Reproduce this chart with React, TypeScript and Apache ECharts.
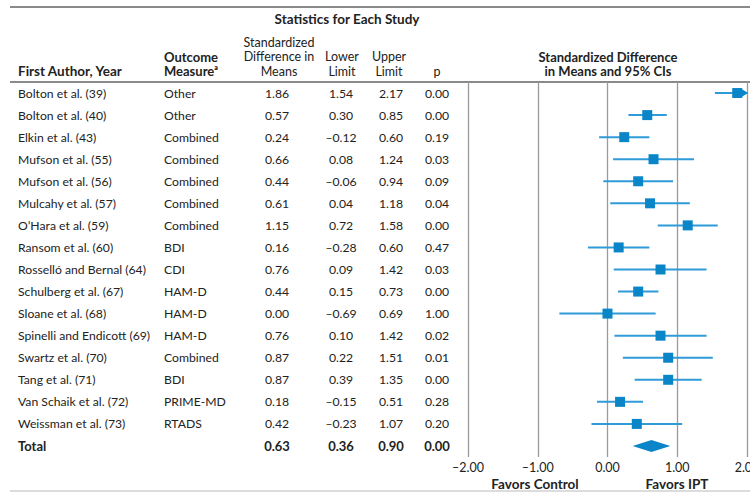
import React, { useEffect, useRef } from "react";
import * as echarts from "echarts";

const authors = [
  "Bolton et al. (39)",
  "Bolton et al. (40)",
  "Elkin et al. (43)",
  "Mufson et al. (55)",
  "Mufson et al. (56)",
  "Mulcahy et al. (57)",
  "O\u2019Hara et al. (59)",
  "Ransom et al. (60)",
  "Rossell\u00f3 and Bernal (64)",
  "Schulberg et al. (67)",
  "Sloane et al. (68)",
  "Spinelli and Endicott (69)",
  "Swartz et al. (70)",
  "Tang et al. (71)",
  "Van Schaik et al. (72)",
  "Weissman et al. (73)",
];
const measures = [
  "Other", "Other", "Combined", "Combined", "Combined", "Combined", "Combined",
  "BDI", "CDI", "HAM-D", "HAM-D", "HAM-D", "Combined", "BDI", "PRIME-MD", "RTADS",
];
const smd = [1.86, 0.57, 0.24, 0.66, 0.44, 0.61, 1.15, 0.16, 0.76, 0.44, 0.0, 0.76, 0.87, 0.87, 0.18, 0.42];
const lower = [1.54, 0.3, -0.12, 0.08, -0.06, 0.04, 0.72, -0.28, 0.09, 0.15, -0.69, 0.1, 0.22, 0.39, -0.15, -0.23];
const upper = [2.17, 0.85, 0.6, 1.24, 0.94, 1.18, 1.58, 0.6, 1.42, 0.73, 0.69, 1.42, 1.51, 1.35, 0.51, 1.07];
const pValues = [0.0, 0.0, 0.19, 0.03, 0.09, 0.04, 0.0, 0.47, 0.03, 0.0, 1.0, 0.02, 0.01, 0.0, 0.28, 0.2];

const totalLabel = "Total";
const totalSmd = 0.63;
const totalLower = 0.36;
const totalUpper = 0.9;
const totalP = 0.0;

const axisMin = -2;
const axisMax = 2;
const axisInterval = 1;

const FONT = "Lato";
const TXT = "#222";
const MARK = "#0a86c8";
const LINE = "#2f9bd8";

const fmt = (v: number) => (v < 0 ? "\u2013" : "") + Math.abs(v).toFixed(2);

export default function App() {
  const ref = useRef<HTMLDivElement>(null);
  useEffect(() => {
    if (!ref.current) return;
    const chart = echarts.init(ref.current, null, { renderer: "svg" });
    const rowNames = [...authors, totalLabel];
    const nRows = rowNames.length;

    const tableData = rowNames.map((_, i) => [0, i]);
    const forestData = smd.map((v, i) => [v, i, lower[i], upper[i]]);

    const colX = { author: 18, measure: 164, smd: 277, lower: 341, upper: 391, p: 437 };

    const headerText = (text: string, x: number, y: number, align: string, bold = false, size = 12.5) => ({
      type: "text",
      x,
      y,
      style: {
        text,
        fill: TXT,
        font: `${bold ? "bold " : ""}${size}px ${FONT}`,
        align,
        verticalAlign: "middle",
      },
    });

    chart.setOption({
      animation: false,
      grid: { left: 468, right: 3, top: 82, bottom: 37, containLabel: false, outerBoundsMode: "none" },
      xAxis: {
        type: "value",
        min: axisMin,
        max: axisMax,
        interval: axisInterval,
        axisLine: { show: false },
        axisTick: { show: false },
        splitLine: { show: true, showMinLine: true, showMaxLine: true, lineStyle: { color: "#9a9a9a", width: 1.3 } },
        axisLabel: {
          formatter: (v: number) => fmt(v),
          color: TXT,
          fontFamily: FONT,
          fontSize: 12.5,
          margin: 4,
          showMinLabel: true,
          showMaxLabel: true,
        },
      },
      yAxis: {
        type: "category",
        data: rowNames,
        inverse: true,
        axisLine: { show: false },
        axisTick: { show: false },
        axisLabel: { show: false },
        splitLine: { show: false },
      },
      series: [
        {
          type: "custom",
          coordinateSystem: "cartesian2d",
          clip: false,
          data: tableData,
          renderItem: (params: any, api: any) => {
            const i = api.value(1);
            const y = api.coord([0, i])[1];
            const isTotal = i === nRows - 1;
            const font = `${isTotal ? "bold 13px" : "12.2px"} ${FONT}`;
            const mk = (text: string, x: number, align: string) => ({
              type: "text",
              x,
              y,
              style: { text, fill: TXT, font, align, verticalAlign: "middle" },
            });
            const children = isTotal
              ? [
                  mk(totalLabel, colX.author, "left"),
                  mk(fmt(totalSmd), colX.smd, "center"),
                  mk(fmt(totalLower), colX.lower, "center"),
                  mk(fmt(totalUpper), colX.upper, "center"),
                  mk(fmt(totalP), colX.p, "center"),
                ]
              : [
                  mk(authors[i], colX.author, "left"),
                  mk(measures[i], colX.measure, "left"),
                  mk(fmt(smd[i]), colX.smd, "center"),
                  mk(fmt(lower[i]), colX.lower, "center"),
                  mk(fmt(upper[i]), colX.upper, "center"),
                  mk(fmt(pValues[i]), colX.p, "center"),
                ];
            return { type: "group", children };
          },
          z: 5,
        },
        {
          type: "custom",
          coordinateSystem: "cartesian2d",
          clip: false,
          data: forestData,
          renderItem: (params: any, api: any) => {
            const v = api.value(0);
            const i = api.value(1);
            const lo = api.value(2);
            const hi = api.value(3);
            const p = api.coord([v, i]);
            const pl = api.coord([Math.max(lo, axisMin), i]);
            const ph = api.coord([Math.min(hi, axisMax), i]);
            const s = 10;
            const children: any[] = [
              {
                type: "line",
                shape: { x1: pl[0], y1: pl[1], x2: ph[0], y2: ph[1] },
                style: { stroke: LINE, lineWidth: 2 },
              },
              {
                type: "rect",
                shape: { x: p[0] - s / 2, y: p[1] - s / 2, width: s, height: s },
                style: { fill: MARK },
              },
            ];
            if (hi > axisMax) {
              children.push({
                type: "polygon",
                shape: { points: [[ph[0] - 7, ph[1] - 5], [ph[0] + 1, ph[1]], [ph[0] - 7, ph[1] + 5]] },
                style: { fill: MARK },
              });
            }
            return { type: "group", children };
          },
          z: 4,
        },
        {
          type: "custom",
          coordinateSystem: "cartesian2d",
          clip: false,
          data: [[totalSmd, nRows - 1, totalLower, totalUpper]],
          renderItem: (params: any, api: any) => {
            const i = api.value(1);
            const c = api.coord([api.value(0), i]);
            const l = api.coord([api.value(2), i]);
            const h = api.coord([api.value(3), i]);
            return {
              type: "polygon",
              shape: { points: [[l[0], l[1]], [c[0], c[1] - 6], [h[0], h[1]], [c[0], c[1] + 6]] },
              style: { fill: MARK },
            };
          },
          z: 4,
        },
      ],
      graphic: [
        { type: "line", shape: { x1: 10, y1: 7, x2: 750, y2: 7 }, style: { stroke: "#8a8a8a", lineWidth: 2 } },
        { type: "line", shape: { x1: 10, y1: 82, x2: 750, y2: 82 }, style: { stroke: "#8a8a8a", lineWidth: 2 } },
        { type: "line", shape: { x1: 10, y1: 491, x2: 750, y2: 491 }, style: { stroke: "#d0d0d0", lineWidth: 1.5 } },
        headerText("Statistics for Each Study", 347, 19, "center", true, 13.5),
        headerText("First Author, Year", 18, 71, "left", true, 13.5),
        headerText("Outcome", 164, 56.5, "left", true, 13),
        headerText("Measure\u1d43", 164, 71, "left", true, 13),
        headerText("Standardized", 279, 42, "center"),
        headerText("Difference in", 279, 56.5, "center"),
        headerText("Means", 279, 71, "center"),
        headerText("Lower", 342, 56.5, "center"),
        headerText("Limit", 342, 71, "center"),
        headerText("Upper", 389, 56.5, "center"),
        headerText("Limit", 389, 71, "center"),
        headerText("p", 437, 71, "center"),
        headerText("Standardized Difference", 608, 56.5, "center", true, 13),
        headerText("in Means and 95% CIs", 608, 71, "center", true, 13),
        headerText("Favors Control", 535, 484, "center", true, 13.5),
        headerText("Favors IPT", 677, 484, "center", true, 13.5),
      ],
    });
    return () => chart.dispose();
  }, []);
  return (
    <div
      ref={ref}
      style={{ position: "fixed", left: 0, top: 0, width: 750, height: 494, background: "#fff" }}
    />
  );
}
